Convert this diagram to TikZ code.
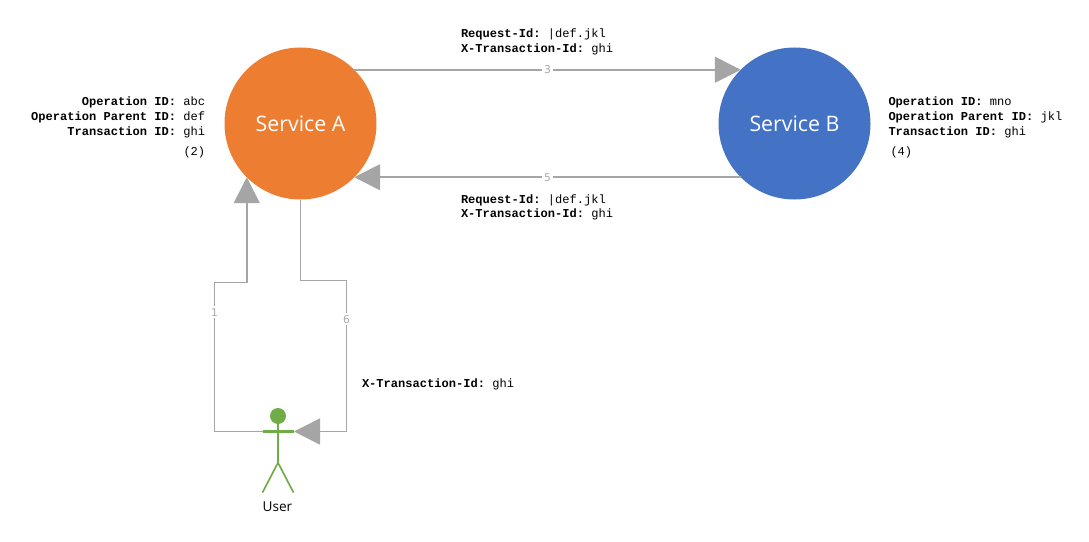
\documentclass[tikz,border=0pt]{standalone}
\usepackage{fontspec}
\setmainfont{Open Sans}
\setmonofont{Liberation Mono}
\newfontfamily\numfont{DejaVu Sans}
\usetikzlibrary{arrows.meta}
\definecolor{orangeA}{HTML}{ED7D31}
\definecolor{blueB}{HTML}{4472C4}
\definecolor{greenU}{HTML}{70AD47}
\definecolor{linegray}{HTML}{A5A5A5}
\definecolor{numgray}{HTML}{A8A8A8}
\newcommand{\kv}[2]{\textbf{#1} #2}
\tikzset{
  service/.style={circle,minimum size=114pt,inner sep=0pt,outer sep=0pt,text=white,font=\fontsize{16}{19}\selectfont},
  conn/.style={draw=linegray,line width=1.15pt,line join=miter,-{Triangle[length=19.5pt,width=19.5pt,fill=linegray]}},
  num/.style={fill=white,inner sep=1.5pt,text=numgray,font=\numfont\fontsize{8}{10}\selectfont},
  info/.style={inner sep=0pt,outer sep=0pt,font=\ttfamily\fontsize{9.05}{11.25}\selectfont},
  actorline/.style={draw=greenU,line width=1.25pt},
  actorarm/.style={draw=greenU,line width=1.6pt},
}
\begin{document}
\begin{tikzpicture}[x=0.75pt,y=-0.75pt]
\useasboundingbox (0,0) rectangle (1089,542);
\fill[white] (0,0) rectangle (1089,542);
% services
\node[service,fill=orangeA] (A) at (300.5,123.5) {Service A};
\node[service,fill=blueB] (B) at (794.5,123.5) {Service B};
% actor anchors
\node[circle,fill=greenU,minimum size=12pt,inner sep=0pt,outer sep=0pt] (head) at (278,416) {};
\coordinate (armL) at (263,431.5);
\coordinate (armR) at (294,431.5);
\coordinate (hip) at (278,462.7);
\coordinate (footL) at (262.5,492.5);
\coordinate (footR) at (293.5,492.5);
\node[inner sep=0pt,font=\fontsize{10.2}{12}\selectfont] (user) at (277.5,507) {User};
% connector elbows
\coordinate (e1a) at (214.5,431.5);
\coordinate (e1b) at (214.5,282.5);
\coordinate (e6a) at (346.5,280.5);
\coordinate (e6b) at (346.5,431.5);
% connectors
\draw[conn] (armL) -- (e1a) -- node[num,pos=.8] (n1) {1} (e1b) -| (A.225);
\draw[conn] (A.south) |- (e6a) -- node[num,pos=.258] (n6) {6} (e6b) -- (armR);
\draw[conn] (A.45) -- node[num] (n3) {3} (B.135);
\draw[conn] (B.225) -- node[num] (n5) {5} (A.315);
% actor lines, above the connectors
\draw[actorarm] (armL) -- (armR);
\draw[actorline] (head) -- (hip);
\draw[actorline] (footL) -- (hip) -- (footR);
% texts
\node[info,anchor=east,align=right] (ta) at (205,117.7) {\kv{Operation ID:}{abc}\\\kv{Operation Parent ID:}{def}\\\kv{Transaction ID:}{ghi}};
\node[info,anchor=west] (t2) at (183.5,152.7) {(2)};
\node[info,anchor=west,align=left] (tb) at (888.5,117.7) {\kv{Operation ID:}{mno}\\\kv{Operation Parent ID:}{jkl}\\\kv{Transaction ID:}{ghi}};
\node[info,anchor=west] (t4) at (890.5,152.7) {(4)};
\node[info,anchor=west,align=left,font=\ttfamily\fontsize{9.05}{10.9}\selectfont] (t3) at (461,41.7) {\kv{Request-Id:}{|def.jkl}\\\kv{X-Transaction-Id:}{ghi}};
\node[info,anchor=west,align=left,font=\ttfamily\fontsize{9.05}{10.9}\selectfont] (t5) at (461,207.2) {\kv{Request-Id:}{|def.jkl}\\\kv{X-Transaction-Id:}{ghi}};
\node[info,anchor=west] (t6) at (362,384.2) {\kv{X-Transaction-Id:}{ghi}};
\end{tikzpicture}
\end{document}
